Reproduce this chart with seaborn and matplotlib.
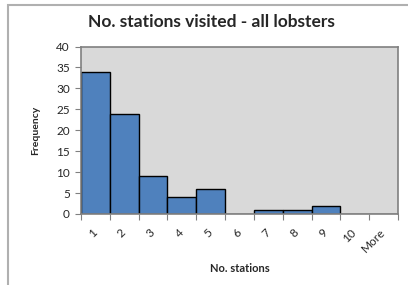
import matplotlib
matplotlib.use("Agg")
import matplotlib.pyplot as plt
import seaborn as sns
import pandas as pd
from matplotlib.patches import Rectangle

categories = ["1", "2", "3", "4", "5", "6", "7", "8", "9", "10", "More"]
frequency = [34, 24, 9, 4, 6, 0, 1, 1, 2, 0, 0]
y_ticks = [0, 5, 10, 15, 20, 25, 30, 35, 40]

df = pd.DataFrame({"station": categories, "freq": frequency})

sns.set_style("white")
plt.rcParams["font.family"] = ["Lato", "DejaVu Sans"]

W, H = 408, 285
fig = plt.figure(figsize=(W / 100, H / 100), dpi=100)
fig.patch.set_facecolor("white")

# outer chart border (only left/top visible)
fig.add_artist(Rectangle((8 / W, -0.1), 1.2, (285 - 5) / H + 0.1,
                         transform=fig.transFigure, fill=False,
                         edgecolor="#b0b0b0", linewidth=1.5))

ax = fig.add_axes([81 / W, 1 - 214 / H, (398 - 81) / W, (214 - 46.5) / H])
ax.set_facecolor("#d9d9d9")
sns.barplot(data=df, x="station", y="freq", ax=ax, color="#4f81bd",
            width=1.0, edgecolor="black", linewidth=1.0, saturation=1)

ax.set_xlim(-0.5, len(categories) - 0.5)
ax.set_ylim(0, 40)
ax.set_yticks(y_ticks)
ax.set_yticklabels([str(v) for v in y_ticks], fontsize=8.5)
ax.tick_params(axis="y", length=4, width=0.8, color="#808080", pad=4, left=True)

ax.set_xticks(range(len(categories)))
ax.set_xticklabels(categories, fontsize=8.5, rotation=45, ha="right",
                   va="center", rotation_mode="anchor")
ax.tick_params(axis="x", which="major", length=0, pad=12)
ax.set_xticks([i - 0.5 for i in range(len(categories) + 1)], minor=True)
ax.tick_params(axis="x", which="minor", length=4, width=0.8, color="#808080",
               bottom=True)

for side in ["left", "bottom", "top", "right"]:
    ax.spines[side].set_visible(True)
    ax.spines[side].set_color("#808080")
    ax.spines[side].set_linewidth(1.2)

ax.set_xlabel("No. stations", fontsize=8, fontweight="bold")
ax.xaxis.set_label_coords(0.5, -(268 - 214) / (214 - 46.5))
ax.xaxis.label.set_va("center")
ax.set_ylabel("Frequency", fontsize=7.5, fontweight="bold")
ax.yaxis.set_label_coords(-(81 - 36) / (398 - 81), 0.5)
ax.yaxis.label.set_va("center")

fig.text(211 / W, 1 - 22 / H, "No. stations visited - all lobsters",
         ha="center", va="center", fontsize=12.5, fontweight="bold")

fig.savefig("out.png", dpi=100)
